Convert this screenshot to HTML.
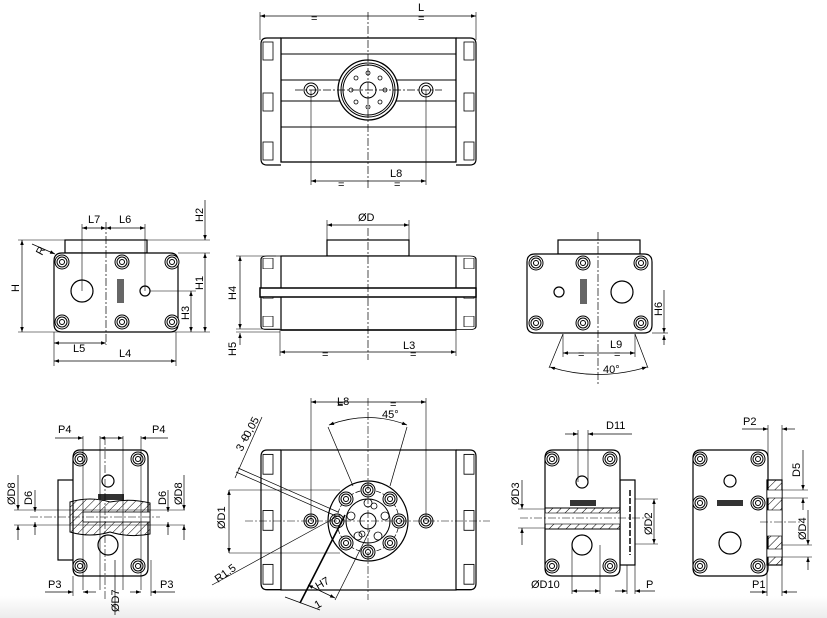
<!DOCTYPE html>
<html><head><meta charset="utf-8"><style>
html,body{margin:0;padding:0;background:#fff;}
svg{display:block;font-family:"Liberation Sans",sans-serif;}
text{font-size:11px;fill:#000;}
</style></head><body>
<svg width="827" height="618" viewBox="0 0 827 618" xmlns="http://www.w3.org/2000/svg">
<defs>
<marker id="a" viewBox="0 0 10 10" refX="10" refY="5" markerWidth="7" markerHeight="5" orient="auto-start-reverse" markerUnits="userSpaceOnUse"><path d="M0,1.5 L10,5 L0,8.5z" fill="#000"/></marker>
<linearGradient id="g" x1="0" y1="0" x2="0" y2="1"><stop offset="0" stop-color="#fff"/><stop offset="1" stop-color="#ececec"/></linearGradient>
<pattern id="h" width="6" height="6" patternUnits="userSpaceOnUse" patternTransform="rotate(45)"><line x1="0" y1="0" x2="0" y2="6" stroke="#000" stroke-width="1"/></pattern>
<g id="bolt"><circle r="7" fill="#fff" stroke="#000"/><circle r="5" fill="none" stroke="#000"/><circle r="2.5" fill="none" stroke="#000"/></g>
<g id="cap"><path d="M0,0 h-14 q-6,0 -6,6 v115 q0,6 6,6 h14" fill="#fff" stroke="#000" stroke-width="1.2"/><rect x="-18" y="4" width="10" height="18" fill="none" stroke="#000" stroke-width="0.8"/><rect x="-18" y="55" width="10" height="18" fill="none" stroke="#000" stroke-width="0.8"/><rect x="-18" y="104" width="10" height="18" fill="none" stroke="#000" stroke-width="0.8"/></g>
</defs>
<rect x="0" y="596" width="827" height="22" fill="url(#g)"/>
<g stroke="#000" fill="none" stroke-width="1">

<!-- TOP VIEW -->
<line x1="260" y1="12" x2="260" y2="40" stroke-width="0.6"/><line x1="476" y1="12" x2="476" y2="40" stroke-width="0.6"/>
<line x1="260" y1="16" x2="476" y2="16" marker-start="url(#a)" marker-end="url(#a)" stroke-width="0.7"/>
<use href="#cap" transform="translate(281,38)"/>
<use href="#cap" transform="translate(456,38) scale(-1,1)"/>
<rect x="281" y="38" width="175" height="124" stroke-width="1.3"/>
<line x1="281" y1="54" x2="456" y2="54"/><line x1="281" y1="80" x2="456" y2="80"/><line x1="281" y1="101" x2="456" y2="101"/><line x1="281" y1="127" x2="456" y2="127"/>
<circle cx="368" cy="90" r="30" fill="#fff" stroke-width="1.3"/><circle cx="368" cy="90" r="27"/><circle cx="368" cy="90" r="25"/>
<circle cx="368" cy="90" r="8"/>
<g stroke-width="0.8"><circle cx="368" cy="73" r="2"/><circle cx="368" cy="107" r="2"/><circle cx="351" cy="90" r="2"/><circle cx="385" cy="90" r="2"/><circle cx="356" cy="78" r="2"/><circle cx="380" cy="78" r="2"/><circle cx="356" cy="102" r="2"/><circle cx="380" cy="102" r="2"/></g>
<circle cx="311" cy="90" r="7" fill="#fff"/><circle cx="311" cy="90" r="4.5"/>
<circle cx="426" cy="90" r="7" fill="#fff"/><circle cx="426" cy="90" r="4.5"/>
<line x1="295" y1="90" x2="442" y2="90" stroke-dasharray="8,2,2,2" stroke-width="0.7"/>
<line x1="368" y1="12" x2="368" y2="188" stroke-dasharray="8,2,2,2" stroke-width="0.7"/>
<line x1="311" y1="90" x2="311" y2="185" stroke-width="0.6"/><line x1="426" y1="90" x2="426" y2="185" stroke-width="0.6"/>
<line x1="311" y1="181" x2="426" y2="181" marker-start="url(#a)" marker-end="url(#a)" stroke-width="0.7"/>

<!-- MIDDLE LEFT -->
<rect x="65" y="240" width="82" height="13" fill="#fff" stroke-width="1.2"/>
<path d="M62,253 H170 Q178,253 178,261 V324 Q178,332 170,332 H62 Q54,332 54,324 V261 Q54,253 62,253Z" fill="#fff" stroke-width="1.2"/>
<use href="#bolt" x="62" y="262"/><use href="#bolt" x="122" y="262"/><use href="#bolt" x="172" y="262"/>
<use href="#bolt" x="62" y="322"/><use href="#bolt" x="122" y="322"/><use href="#bolt" x="172" y="322"/>
<circle cx="82" cy="291" r="11" fill="#fff" stroke-width="1.2"/>
<circle cx="145" cy="291" r="5" stroke-width="1.2"/>
<rect x="117" y="279" width="7" height="24" fill="#666" stroke="none"/>
<line x1="106" y1="222" x2="106" y2="345" stroke-dasharray="8,2,2,2" stroke-width="0.7"/>
<line x1="82" y1="224" x2="82" y2="291" stroke-width="0.6"/><line x1="145" y1="224" x2="145" y2="291" stroke-width="0.6"/>
<line x1="82" y1="228" x2="106" y2="228" marker-start="url(#a)" marker-end="url(#a)" stroke-width="0.7"/>
<line x1="106" y1="228" x2="145" y2="228" marker-start="url(#a)" marker-end="url(#a)" stroke-width="0.7"/>
<line x1="18" y1="240" x2="65" y2="240" stroke-width="0.6"/><line x1="147" y1="240" x2="210" y2="240" stroke-width="0.6"/>
<line x1="18" y1="332" x2="210" y2="332" stroke-width="0.6"/><line x1="178" y1="253" x2="210" y2="253" stroke-width="0.6"/>
<line x1="22" y1="240" x2="22" y2="332" marker-start="url(#a)" marker-end="url(#a)" stroke-width="0.7"/>
<line x1="205" y1="253" x2="205" y2="332" marker-start="url(#a)" marker-end="url(#a)" stroke-width="0.7"/>
<line x1="205" y1="200" x2="205" y2="240" marker-end="url(#a)" stroke-width="0.7"/>
<line x1="150" y1="291" x2="196" y2="291" stroke-width="0.6"/>
<line x1="191" y1="291" x2="191" y2="332" marker-start="url(#a)" marker-end="url(#a)" stroke-width="0.7"/>
<line x1="32" y1="244" x2="55" y2="254" marker-end="url(#a)" stroke-width="0.7"/>
<line x1="54" y1="332" x2="54" y2="366" stroke-width="0.6"/><line x1="176" y1="332" x2="176" y2="366" stroke-width="0.6"/>
<line x1="54" y1="343" x2="106" y2="343" marker-start="url(#a)" marker-end="url(#a)" stroke-width="0.7"/>
<line x1="54" y1="361" x2="176" y2="361" marker-start="url(#a)" marker-end="url(#a)" stroke-width="0.7"/>

<!-- MIDDLE CENTER -->
<rect x="327" y="240" width="82" height="16" fill="#fff" stroke-width="1.2"/>
<use href="#cap" transform="translate(281,256) scale(1,0.58)"/>
<use href="#cap" transform="translate(456,256) scale(-1,0.58)"/>
<rect x="281" y="256" width="175" height="74" fill="#fff" stroke-width="1.2"/>
<rect x="260" y="288" width="216" height="9" fill="#fff" stroke-width="1.5"/>
<line x1="281" y1="330" x2="456" y2="330" stroke-width="1.5"/>
<line x1="368" y1="228" x2="368" y2="360" stroke-dasharray="8,2,2,2" stroke-width="0.7"/>
<line x1="327" y1="220" x2="327" y2="240" stroke-width="0.6"/><line x1="409" y1="220" x2="409" y2="240" stroke-width="0.6"/>
<line x1="327" y1="225" x2="409" y2="225" marker-start="url(#a)" marker-end="url(#a)" stroke-width="0.7"/>
<line x1="236" y1="256" x2="276" y2="256" stroke-width="0.6"/><line x1="236" y1="329" x2="280" y2="329" stroke-width="0.6"/><line x1="236" y1="332" x2="280" y2="332" stroke-width="0.6"/>
<line x1="240" y1="256" x2="240" y2="329" marker-start="url(#a)" marker-end="url(#a)" stroke-width="0.7"/>
<line x1="240" y1="345" x2="240" y2="333" marker-end="url(#a)" stroke-width="0.7"/>
<line x1="280" y1="330" x2="280" y2="356" stroke-width="0.6"/><line x1="456" y1="330" x2="456" y2="356" stroke-width="0.6"/>
<line x1="280" y1="352" x2="456" y2="352" marker-start="url(#a)" marker-end="url(#a)" stroke-width="0.7"/>

<!-- MIDDLE RIGHT -->
<rect x="558" y="240" width="82" height="14" fill="#fff" stroke-width="1.2"/>
<path d="M535,254 H644 Q652,254 652,262 V325 Q652,333 644,333 H535 Q527,333 527,325 V262 Q527,254 535,254Z" fill="#fff" stroke-width="1.2"/>
<use href="#bolt" x="536" y="263"/><use href="#bolt" x="583" y="263"/><use href="#bolt" x="641" y="263"/>
<use href="#bolt" x="536" y="323"/><use href="#bolt" x="583" y="323"/><use href="#bolt" x="641" y="323"/>
<circle cx="559" cy="292" r="5" stroke-width="1.2"/>
<circle cx="622" cy="292" r="11" fill="#fff" stroke-width="1.2"/>
<rect x="580" y="279" width="7" height="25" fill="#666" stroke="none"/>
<line x1="598" y1="232" x2="598" y2="385" stroke-dasharray="8,2,2,2" stroke-width="0.7"/>
<line x1="652" y1="333" x2="668" y2="333" stroke-width="0.6"/>
<line x1="664" y1="290" x2="664" y2="333" marker-end="url(#a)" stroke-width="0.7"/>
<line x1="664" y1="345" x2="664" y2="335" marker-end="url(#a)" stroke-width="0.7"/>
<line x1="563" y1="334" x2="549" y2="368" stroke-width="0.7"/><line x1="635" y1="334" x2="648" y2="368" stroke-width="0.7"/>
<line x1="563" y1="334" x2="563" y2="357" stroke-width="0.6"/><line x1="635" y1="334" x2="635" y2="357" stroke-width="0.6"/>
<line x1="563" y1="353" x2="635" y2="353" marker-start="url(#a)" marker-end="url(#a)" stroke-width="0.7"/>
<path d="M550,367 Q598,382 647,367" marker-start="url(#a)" marker-end="url(#a)" stroke-width="0.7"/>

<!-- BOTTOM 1 -->
<rect x="58" y="480" width="16" height="80" fill="#fff" stroke-width="1.2"/>
<path d="M80,450 H140 Q148,450 148,458 V568 Q148,576 140,576 H80 Q73,576 73,568 V458 Q73,450 80,450Z" fill="#fff" stroke-width="1.2"/>
<use href="#bolt" x="80" y="459"/><use href="#bolt" x="138" y="459"/><use href="#bolt" x="80" y="566"/><use href="#bolt" x="138" y="566"/>
<circle cx="108" cy="481" r="6" stroke-width="1.2"/>
<circle cx="108" cy="545" r="10" fill="#fff" stroke-width="1.2"/>
<path d="M70,502 Q90,496 110,502 Q130,498 150,503 V534 Q130,538 110,532 Q90,538 70,532Z" fill="url(#h)" stroke-width="1"/>
<rect x="83" y="512" width="67" height="10" fill="#fff" stroke-width="0.8"/>
<rect x="98" y="494" width="26" height="6" fill="#333" stroke="none"/>
<line x1="30" y1="517" x2="160" y2="517" stroke-dasharray="8,2,2,2" stroke-width="0.6"/>
<line x1="105" y1="437" x2="105" y2="600" stroke-dasharray="8,2,2,2" stroke-width="0.6"/>
<line x1="83" y1="436" x2="83" y2="590" stroke-width="0.6"/><line x1="100" y1="436" x2="100" y2="590" stroke-width="0.6"/>
<line x1="123" y1="436" x2="123" y2="590" stroke-width="0.6"/><line x1="141" y1="436" x2="141" y2="590" stroke-width="0.6"/>
<line x1="55" y1="438" x2="83" y2="438" marker-end="url(#a)" stroke-width="0.7"/>
<line x1="113" y1="438" x2="100" y2="438" marker-end="url(#a)" stroke-width="0.7"/>
<line x1="113" y1="438" x2="123" y2="438" marker-end="url(#a)" stroke-width="0.7"/>
<line x1="168" y1="438" x2="141" y2="438" marker-end="url(#a)" stroke-width="0.7"/>
<line x1="45" y1="592" x2="73" y2="592" marker-end="url(#a)" stroke-width="0.7"/>
<line x1="96" y1="592" x2="83" y2="592" marker-end="url(#a)" stroke-width="0.7"/>
<line x1="130" y1="592" x2="141" y2="592" marker-end="url(#a)" stroke-width="0.7"/>
<line x1="175" y1="592" x2="151" y2="592" marker-end="url(#a)" stroke-width="0.7"/>
<line x1="73" y1="576" x2="73" y2="596" stroke-width="0.6"/><line x1="151" y1="560" x2="151" y2="596" stroke-width="0.6"/>
<line x1="14" y1="510" x2="185" y2="510" stroke-width="0.5"/><line x1="14" y1="525" x2="185" y2="525" stroke-width="0.5"/>
<line x1="18" y1="475" x2="18" y2="510" marker-end="url(#a)" stroke-width="0.7"/><line x1="18" y1="540" x2="18" y2="525" marker-end="url(#a)" stroke-width="0.7"/>
<line x1="35" y1="490" x2="35" y2="512" marker-end="url(#a)" stroke-width="0.7"/><line x1="35" y1="535" x2="35" y2="522" marker-end="url(#a)" stroke-width="0.7"/>
<line x1="168" y1="490" x2="168" y2="512" marker-end="url(#a)" stroke-width="0.7"/><line x1="168" y1="535" x2="168" y2="522" marker-end="url(#a)" stroke-width="0.7"/>
<line x1="184" y1="475" x2="184" y2="510" marker-end="url(#a)" stroke-width="0.7"/><line x1="184" y1="540" x2="184" y2="525" marker-end="url(#a)" stroke-width="0.7"/>
<line x1="115" y1="615" x2="115" y2="560" stroke-width="0.7"/>

<!-- BOTTOM CENTER -->
<use href="#cap" transform="translate(281,450) scale(1,1.1)"/>
<use href="#cap" transform="translate(456,450) scale(-1,1.1)"/>
<rect x="281" y="450" width="175" height="140" fill="#fff" stroke-width="1.2"/>
<line x1="229" y1="490" x2="340" y2="490" stroke-width="0.6"/><line x1="229" y1="553" x2="340" y2="553" stroke-width="0.6"/>
<line x1="229" y1="490" x2="229" y2="553" marker-start="url(#a)" marker-end="url(#a)" stroke-width="0.7"/>
<circle cx="368" cy="521" r="40" fill="#fff" stroke-width="1.2"/>
<circle cx="368" cy="521" r="31" stroke-dasharray="5,2" stroke-width="0.7"/>
<circle cx="368" cy="521" r="22" stroke-width="1"/>
<circle cx="368" cy="521" r="8"/>
<use href="#bolt" x="368" y="490"/><use href="#bolt" x="368" y="552"/><use href="#bolt" x="337" y="521"/><use href="#bolt" x="399" y="521"/>
<use href="#bolt" x="346" y="499"/><use href="#bolt" x="390" y="499"/><use href="#bolt" x="390" y="543"/><use href="#bolt" x="346" y="543"/>
<g stroke-width="0.8"><circle cx="368" cy="503" r="4"/><circle cx="385" cy="516" r="4"/><circle cx="378" cy="536" r="4"/><circle cx="358" cy="536" r="4"/><circle cx="351" cy="516" r="4"/><circle cx="374" cy="506" r="3"/><circle cx="362" cy="534" r="3"/></g>
<use href="#bolt" x="311" y="521"/><use href="#bolt" x="426" y="521"/>
<line x1="245" y1="521" x2="490" y2="521" stroke-dasharray="8,2,2,2" stroke-width="0.6"/>
<line x1="368" y1="398" x2="368" y2="600" stroke-dasharray="8,2,2,2" stroke-width="0.6"/>
<line x1="311" y1="398" x2="311" y2="521" stroke-width="0.6"/><line x1="426" y1="398" x2="426" y2="521" stroke-width="0.6"/>
<line x1="311" y1="402" x2="426" y2="402" marker-start="url(#a)" marker-end="url(#a)" stroke-width="0.7"/>
<line x1="328" y1="427" x2="353" y2="486" stroke-width="0.7"/><line x1="407" y1="427" x2="390" y2="486" stroke-width="0.7"/>
<path d="M329,425 Q368,410 407,425" marker-start="url(#a)" marker-end="url(#a)" stroke-width="0.7"/>
<line x1="238" y1="468" x2="338" y2="512" stroke-width="0.7"/><line x1="236" y1="472" x2="336" y2="516" stroke-width="0.7"/>
<line x1="262" y1="417" x2="235" y2="478" stroke-width="0.7"/>
<line x1="212" y1="585" x2="340" y2="515" stroke-width="0.7"/>
<line x1="300" y1="603" x2="345" y2="515" stroke-width="1.6"/>
<line x1="335" y1="600" x2="370" y2="530" stroke-width="0.7"/>
<line x1="308" y1="585" x2="335" y2="598" marker-start="url(#a)" marker-end="url(#a)" stroke-width="0.7"/>
<line x1="285" y1="597" x2="320" y2="610" stroke-width="0.7"/>

<!-- BOTTOM 3 -->
<rect x="620" y="480" width="15" height="85" fill="#fff" stroke-width="1.2"/>
<path d="M553,450 H612 Q620,450 620,458 V568 Q620,576 612,576 H553 Q545,576 545,568 V458 Q545,450 553,450Z" fill="#fff" stroke-width="1.2"/>
<use href="#bolt" x="552" y="459"/><use href="#bolt" x="610" y="459"/><use href="#bolt" x="552" y="566"/><use href="#bolt" x="610" y="566"/>
<circle cx="582" cy="482" r="6" stroke-width="1.2"/>
<circle cx="582" cy="545" r="10" fill="#fff" stroke-width="1.2"/>
<rect x="570" y="500" width="26" height="6" fill="#333" stroke="none"/>
<rect x="545" y="508" width="75" height="21" fill="url(#h)" stroke-width="1"/>
<rect x="545" y="513" width="75" height="11" fill="#fff" stroke-width="0.6"/>
<line x1="630" y1="490" x2="630" y2="555" stroke-width="1.5" stroke-dasharray="6,2"/>
<line x1="520" y1="518" x2="650" y2="518" stroke-dasharray="8,2,2,2" stroke-width="0.6"/>
<line x1="518" y1="509" x2="545" y2="509" stroke-width="0.5"/><line x1="518" y1="528" x2="545" y2="528" stroke-width="0.5"/>
<line x1="522" y1="480" x2="522" y2="509" marker-end="url(#a)" stroke-width="0.7"/><line x1="522" y1="545" x2="522" y2="528" marker-end="url(#a)" stroke-width="0.7"/>
<line x1="635" y1="499" x2="658" y2="499" stroke-width="0.5"/><line x1="635" y1="544" x2="658" y2="544" stroke-width="0.5"/>
<line x1="654" y1="499" x2="654" y2="544" marker-start="url(#a)" marker-end="url(#a)" stroke-width="0.7"/>
<line x1="578" y1="430" x2="578" y2="482" stroke-width="0.6"/><line x1="588" y1="430" x2="588" y2="482" stroke-width="0.6"/>
<line x1="565" y1="434" x2="578" y2="434" marker-end="url(#a)" stroke-width="0.7"/><line x1="632" y1="434" x2="588" y2="434" marker-end="url(#a)" stroke-width="0.7"/>
<line x1="572" y1="545" x2="572" y2="594" stroke-width="0.6"/><line x1="600" y1="545" x2="600" y2="594" stroke-width="0.6"/>
<line x1="572" y1="591" x2="600" y2="591" marker-start="url(#a)" marker-end="url(#a)" stroke-width="0.7"/>
<line x1="627" y1="565" x2="627" y2="594" stroke-width="0.6"/><line x1="635" y1="565" x2="635" y2="594" stroke-width="0.6"/>
<line x1="615" y1="591" x2="627" y2="591" marker-end="url(#a)" stroke-width="0.7"/><line x1="655" y1="591" x2="635" y2="591" marker-end="url(#a)" stroke-width="0.7"/>

<!-- BOTTOM 4 -->
<path d="M701,450 H760 Q768,450 768,458 V568 Q768,576 760,576 H701 Q693,576 693,568 V458 Q693,450 701,450Z" fill="#fff" stroke-width="1.2"/>
<use href="#bolt" x="700" y="459"/><use href="#bolt" x="758" y="459"/><use href="#bolt" x="700" y="503"/><use href="#bolt" x="758" y="503"/><use href="#bolt" x="700" y="566"/><use href="#bolt" x="758" y="566"/>
<circle cx="730" cy="481" r="6" stroke-width="1.2"/>
<circle cx="730" cy="543" r="11" fill="#fff" stroke-width="1.2"/>
<rect x="717" y="500" width="26" height="6" fill="#333" stroke="none"/>
<rect x="767" y="480" width="15" height="85" fill="url(#h)" stroke-width="1.2"/>
<rect x="767" y="490" width="15" height="8" fill="#fff" stroke-width="0.6"/>
<rect x="767" y="510" width="15" height="26" fill="#fff" stroke-width="0.6"/>
<rect x="767" y="549" width="15" height="8" fill="#fff" stroke-width="0.6"/>
<line x1="760" y1="522" x2="800" y2="522" stroke-dasharray="8,2,2,2" stroke-width="0.6"/>
<line x1="768" y1="425" x2="768" y2="480" stroke-width="0.6"/><line x1="782" y1="425" x2="782" y2="480" stroke-width="0.6"/>
<line x1="742" y1="429" x2="768" y2="429" marker-end="url(#a)" stroke-width="0.7"/><line x1="795" y1="429" x2="782" y2="429" marker-end="url(#a)" stroke-width="0.7"/>
<line x1="782" y1="490" x2="808" y2="490" stroke-width="0.5"/><line x1="782" y1="498" x2="808" y2="498" stroke-width="0.5"/>
<line x1="803" y1="450" x2="803" y2="490" marker-end="url(#a)" stroke-width="0.7"/><line x1="803" y1="510" x2="803" y2="498" marker-end="url(#a)" stroke-width="0.7"/>
<line x1="782" y1="545" x2="812" y2="545" stroke-width="0.5"/><line x1="782" y1="557" x2="812" y2="557" stroke-width="0.5"/>
<line x1="808" y1="510" x2="808" y2="545" marker-end="url(#a)" stroke-width="0.7"/><line x1="808" y1="570" x2="808" y2="557" marker-end="url(#a)" stroke-width="0.7"/>
<line x1="767" y1="565" x2="767" y2="596" stroke-width="0.6"/><line x1="782" y1="565" x2="782" y2="596" stroke-width="0.6"/>
<line x1="750" y1="592" x2="767" y2="592" marker-end="url(#a)" stroke-width="0.7"/><line x1="797" y1="592" x2="782" y2="592" marker-end="url(#a)" stroke-width="0.7"/>
</g>

<!-- LABELS -->
<g>
<text x="418" y="11">L</text>
<text x="311" y="22" font-size="8">=</text><text x="418" y="22" font-size="8">=</text>
<text x="390" y="177">L8</text>
<text x="338" y="188" font-size="8">=</text><text x="394" y="188" font-size="8">=</text>
<text x="88" y="223">L7</text><text x="119" y="223">L6</text>
<text transform="translate(203,222) rotate(-90)">H2</text>
<text transform="translate(203,290) rotate(-90)">H1</text>
<text transform="translate(19,292) rotate(-90)">H</text>
<text transform="translate(189,320) rotate(-90)">H3</text>
<text transform="translate(42,256) rotate(-62)" font-size="10">R</text>
<text x="73" y="352">L5</text><text x="119" y="357">L4</text>
<text x="358" y="221">ØD</text>
<text transform="translate(236,300) rotate(-90)">H4</text>
<text transform="translate(236,356) rotate(-90)">H5</text>
<text x="403" y="349">L3</text>
<text x="322" y="358" font-size="8">=</text><text x="410" y="358" font-size="8">=</text>
<text transform="translate(662,316) rotate(-90)">H6</text>
<text x="610" y="348">L9</text>
<text x="578" y="358" font-size="8">=</text><text x="614" y="358" font-size="8">=</text>
<text x="603" y="373">40°</text>
<text x="58" y="433">P4</text><text x="152" y="433">P4</text>
<text transform="translate(15,505) rotate(-90)">ØD8</text>
<text transform="translate(32,505) rotate(-90)">D6</text>
<text transform="translate(166,505) rotate(-90)">D6</text>
<text transform="translate(182,505) rotate(-90)">ØD8</text>
<text x="48" y="588">P3</text><text x="160" y="588">P3</text>
<text transform="translate(119,612) rotate(-90)">ØD7</text>
<text x="337" y="405">L8</text>
<text x="337" y="408" font-size="8">=</text><text x="390" y="408" font-size="8">=</text>
<text x="382" y="418">45°</text>
<text transform="translate(242,452) rotate(-62)" font-size="10">3 +0,05</text>
<text transform="translate(247,442) rotate(-62)" font-size="8">0</text>
<text transform="translate(225,529) rotate(-90)">ØD1</text>
<text transform="translate(218,583) rotate(-36)">R1.5</text>
<text transform="translate(318,590) rotate(-30)">H7</text>
<text transform="translate(317,609) rotate(-30)" font-size="10">1</text>
<text x="606" y="429">D11</text>
<text transform="translate(519,505) rotate(-90)">ØD3</text>
<text transform="translate(652,535) rotate(-90)">ØD2</text>
<text x="531" y="588">ØD10</text>
<text x="646" y="588">P</text>
<text x="743" y="425">P2</text>
<text transform="translate(800,477) rotate(-90)">D5</text>
<text transform="translate(806,540) rotate(-90)">ØD4</text>
<text x="752" y="588">P1</text>
</g>
</svg>
</body></html>
